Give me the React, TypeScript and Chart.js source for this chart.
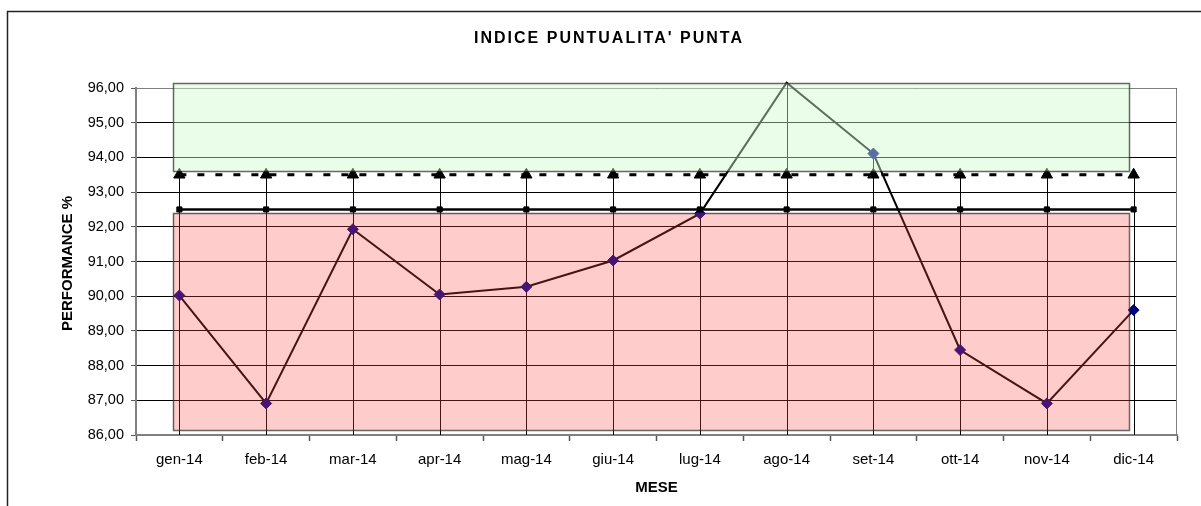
import React, { useEffect, useRef } from 'react';
import { Chart, registerables } from 'chart.js';

Chart.register(...registerables);

const months = ['gen-14', 'feb-14', 'mar-14', 'apr-14', 'mag-14', 'giu-14', 'lug-14', 'ago-14', 'set-14', 'ott-14', 'nov-14', 'dic-14'];
const performance = [90.02, 86.91, 91.93, 90.05, 90.27, 91.03, 92.38, 96.15, 94.11, 88.45, 86.91, 89.6];
const minimumLevel = [92.5, 92.5, 92.5, 92.5, 92.5, 92.5, 92.5, 92.5, 92.5, 92.5, 92.5, 92.5];
const targetLevel = [93.5, 93.5, 93.5, 93.5, 93.5, 93.5, 93.5, 93.5, 93.5, 93.5, 93.5, 93.5];
const greenBand = [93.6, 96.15];
const redBand = [86.15, 92.4];
const yMin = 86;
const yMax = 96;
const yStep = 1;

const titleText = "INDICE PUNTUALITA' PUNTA";
const yTitle = 'PERFORMANCE %';
const xTitle = 'MESE';

const FONT = '"Liberation Sans", Arial, sans-serif';

const decorPlugin = {
  id: 'decor',
  beforeDraw(chart: any) {
    const ctx = chart.ctx;
    ctx.save();
    ctx.fillStyle = '#ffffff';
    ctx.fillRect(0, 0, chart.width, chart.height);
    ctx.strokeStyle = '#222222';
    ctx.lineWidth = 1.5;
    ctx.strokeRect(7.5, 11.5, chart.width + 50, chart.height + 50);
    ctx.restore();
  },
  beforeDatasetsDraw(chart: any) {
    const ctx = chart.ctx;
    const { left, right, top, bottom } = chart.chartArea;
    const xs = chart.scales.x;
    const ys = chart.scales.y;
    ctx.save();
    ctx.strokeStyle = '#808080';
    ctx.lineWidth = 1;
    ctx.beginPath();
    ctx.moveTo(left, Math.round(top) + 0.5);
    ctx.lineTo(Math.round(right) - 0.5, Math.round(top) + 0.5);
    ctx.lineTo(Math.round(right) - 0.5, bottom);
    ctx.stroke();
    ctx.strokeStyle = '#000000';
    ctx.lineWidth = 1;
    for (let i = 0; i < months.length; i++) {
      const hi = Math.max(performance[i], minimumLevel[i], targetLevel[i]);
      const x = Math.round(xs.getPixelForValue(i)) + 0.5;
      ctx.beginPath();
      ctx.moveTo(x, ys.getPixelForValue(hi));
      ctx.lineTo(x, ys.getPixelForValue(yMin));
      ctx.stroke();
    }
    ctx.restore();
  },
  afterDatasetsDraw(chart: any) {
    const ctx = chart.ctx;
    const xs = chart.scales.x;
    const ys = chart.scales.y;
    const x0 = Math.round(xs.getPixelForValue(0)) - 6;
    const x1 = Math.round(xs.getPixelForValue(months.length - 1)) - 5;
    const drawBand = (band: number[], fill: string) => {
      const yTop = Math.round(ys.getPixelForValue(band[1]));
      const yBot = Math.round(ys.getPixelForValue(band[0]));
      ctx.save();
      ctx.fillStyle = fill;
      ctx.fillRect(x0, yTop, x1 - x0, yBot - yTop);
      ctx.strokeStyle = 'rgba(40,40,40,0.7)';
      ctx.lineWidth = 1.5;
      ctx.strokeRect(x0 + 0.5, yTop + 0.5, x1 - x0, yBot - yTop);
      ctx.restore();
    };
    drawBand(redBand, 'rgba(255,73,73,0.28)');
    drawBand(greenBand, 'rgba(204,250,204,0.44)');
  },
  afterDraw(chart: any) {
    const ctx = chart.ctx;
    const { left, right, top, bottom } = chart.chartArea;
    ctx.save();
    ctx.fillStyle = '#000000';
    ctx.textAlign = 'center';
    ctx.textBaseline = 'middle';
    ctx.font = `bold 16px ${FONT}`;
    (ctx as any).letterSpacing = '2px';
    ctx.fillText(titleText, 609, 39);
    (ctx as any).letterSpacing = '0px';
    ctx.font = `bold 15px ${FONT}`;
    ctx.fillText(xTitle, (left + right) / 2, 488);
    ctx.translate(68, (top + bottom) / 2 + 2);
    ctx.rotate(-Math.PI / 2);
    ctx.fillText(yTitle, 0, 0);
    ctx.restore();
  },
};

export default function App() {
  const canvasRef = useRef<HTMLCanvasElement | null>(null);

  useEffect(() => {
    document.body.style.margin = '0';
    const canvas = canvasRef.current;
    if (!canvas) return;
    const chart = new Chart(canvas, {
      type: 'line',
      data: {
        labels: months,
        datasets: [
          {
            label: 'Livello minimo',
            data: minimumLevel,
            borderColor: '#000000',
            backgroundColor: '#000000',
            borderWidth: 2.5,
            pointStyle: 'rect',
            pointRadius: 3.6,
            pointBackgroundColor: '#000000',
            pointBorderColor: '#000000',
            pointBorderWidth: 1,
            tension: 0,
          },
          {
            label: 'Obiettivo',
            data: targetLevel,
            borderColor: '#000000',
            backgroundColor: '#000000',
            borderWidth: 3,
            borderDash: [7, 11],
            pointStyle: 'triangle',
            pointRadius: 6.5,
            pointBackgroundColor: '#000000',
            pointBorderColor: '#000000',
            pointBorderWidth: 1,
            tension: 0,
          },
          {
            label: 'Performance',
            data: performance,
            borderColor: '#000000',
            backgroundColor: '#000080',
            borderWidth: 2,
            pointStyle: 'rectRot',
            pointRadius: performance.map((v) => (v > yMax ? 0 : 5.5)),
            pointBackgroundColor: '#000080',
            pointBorderColor: '#000080',
            pointBorderWidth: 1,
            tension: 0,
            clip: false as any,
          },
        ],
      },
      options: {
        responsive: false,
        animation: false,
        devicePixelRatio: 1,
        layout: { padding: { top: 88, right: 24, bottom: 0, left: 0 } },
        plugins: {
          legend: { display: false },
          title: { display: false },
          tooltip: { enabled: false },
        },
        scales: {
          x: {
            type: 'category',
            offset: true,
            grid: {
              display: true,
              drawOnChartArea: false,
              offset: true,
              tickLength: 6,
              tickColor: '#555555',
              tickWidth: 1.5,
            },
            border: { display: true, color: '#808080', width: 2 },
            ticks: {
              color: '#000000',
              font: { family: FONT, size: 15 },
              padding: 10,
              maxRotation: 0,
              autoSkip: false,
            },
            afterFit(scale: any) {
              scale.height = 71;
            },
          },
          y: {
            min: yMin,
            max: yMax,
            grid: {
              color: '#000000',
              lineWidth: 1,
              tickLength: 5,
              tickColor: '#555555',
            },
            border: { display: true, color: '#808080', width: 2 },
            ticks: {
              stepSize: yStep,
              color: '#000000',
              font: { family: FONT, size: 14.5 },
              padding: 7,
              callback: (v: any) => Number(v).toFixed(2).replace('.', ','),
            },
            afterFit(scale: any) {
              scale.width = 136;
            },
          },
        },
      },
      plugins: [decorPlugin],
    });
    return () => chart.destroy();
  }, []);

  return (
    <div style={{ width: 1201, height: 506, position: 'relative' }}>
      <canvas ref={canvasRef} width={1201} height={506} style={{ display: 'block' }} />
    </div>
  );
}
